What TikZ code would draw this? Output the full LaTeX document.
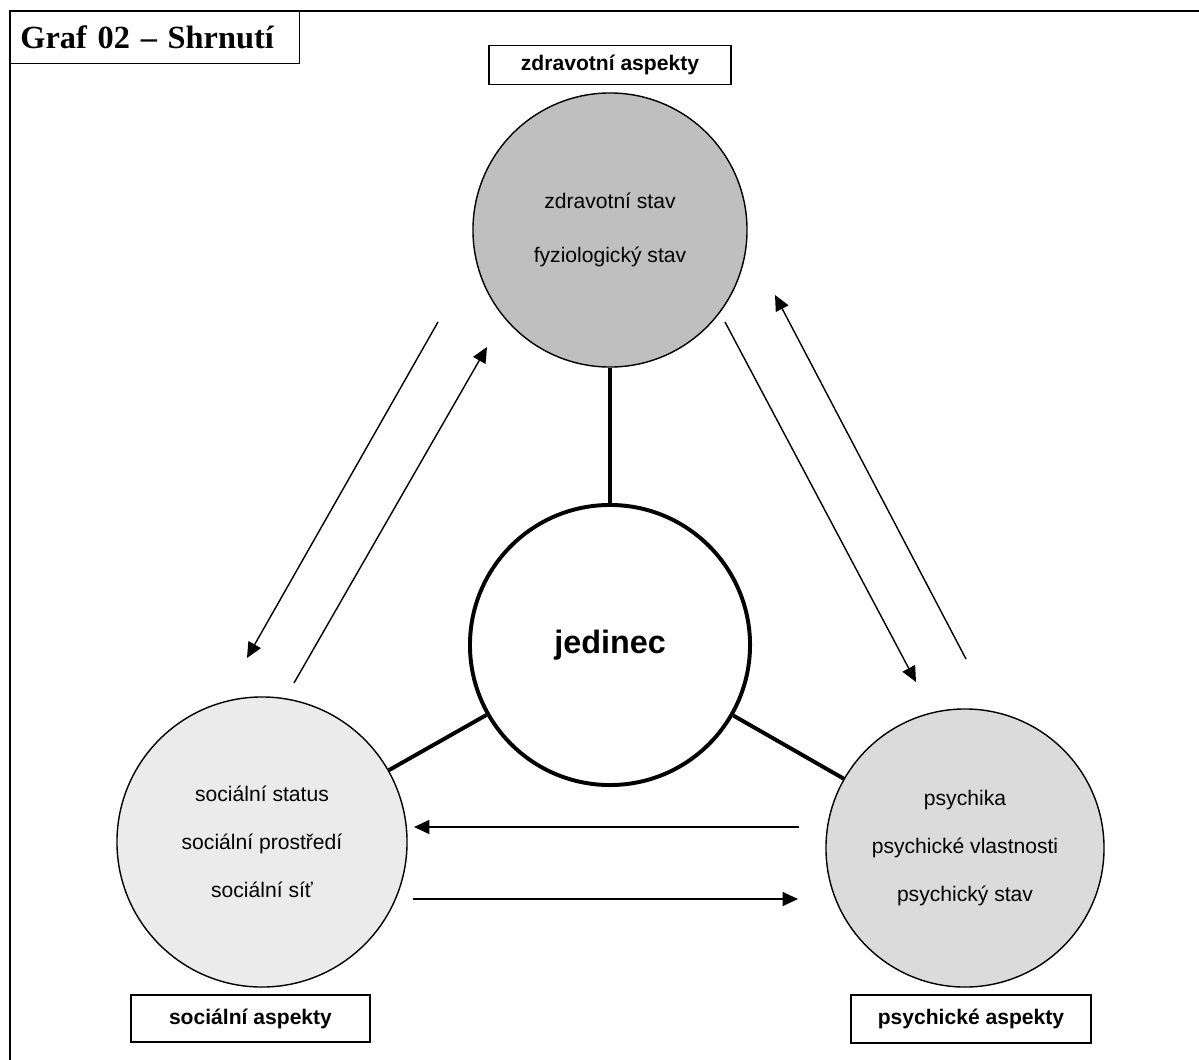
\documentclass[tikz,border=0pt]{standalone}
\usepackage{fontspec}
\setmainfont{Liberation Sans}
\newfontfamily\titlefont{Liberation Serif}
\usetikzlibrary{arrows.meta,positioning}

\definecolor{zdrfill}{gray}{0.75}
\definecolor{socfill}{gray}{0.92}
\definecolor{psyfill}{gray}{0.86}

\tikzset{
	aspect/.style={draw, circle, line width=1pt, align=center, font=\fontsize{15}{34}\selectfont},
	labelbox/.style={draw, line width=1pt, font=\bfseries\fontsize{15}{18}\selectfont},
	link/.style={line width=2.8pt},
	flow/.style={line width=1pt, -{Triangle[length=11pt,width=10pt]}}
}

\begin{document}
\begin{tikzpicture}[x=0.025cm, y=-0.025cm]
	\useasboundingbox (0,0) rectangle (1199,1060);
	% title and frame
	\node[draw, line width=0.6pt, anchor=north west, text width=6.725cm, inner xsep=0.25cm, minimum height=1.3cm, align=left, font=\titlefont\bfseries\fontsize{23}{26}\selectfont] (title) at (10,11) {Graf 02 – Shrnutí};
	\draw[line width=2pt] (10,1060) -- (10,11) -- (1199,11);
	% circles
	\node[aspect, fill=zdrfill, minimum size=6.85cm, font=\fontsize{15}{38}\selectfont] (zdr) at (610,230) {zdravotní stav\\fyziologický stav};
	\node[aspect, line width=2.8pt, fill=white, minimum size=7cm, font=\bfseries\fontsize{23}{26}\selectfont] (jed) at (610,645) {jedinec};
	\node[aspect, fill=socfill, minimum size=7.25cm] (soc) at (262,842) {sociální status\\sociální prostředí\\sociální síť};
	\node[aspect, fill=psyfill, minimum size=6.95cm] (psy) at (965,848) {psychika\\psychické vlastnosti\\psychický stav};
	% labels
	\node[labelbox, minimum width=6.05cm, minimum height=0.975cm, above=0.18cm of zdr] (zdrl) {zdravotní aspekty};
	\node[labelbox, minimum width=5.975cm, minimum height=1.175cm] (socl) at (250.5,1018.5) {sociální aspekty};
	\node[labelbox, minimum width=6cm, minimum height=1.2cm] (psyl) at (971,1019) {psychické aspekty};
	% links to the individual
	\draw[link] (zdr) -- (jed);
	\draw[link] (jed) -- (soc);
	\draw[link] (jed) -- (psy);
	% arrows between aspects
	\coordinate (zs1) at (438,322);
	\coordinate (zs2) at (247,658);
	\coordinate (sz1) at (294,683);
	\coordinate (sz2) at (487,347);
	\coordinate (zp1) at (725,322);
	\coordinate (zp2) at (916,682);
	\coordinate (pz1) at (966,659);
	\coordinate (pz2) at (775,295);
	\coordinate (ps1) at (799,827);
	\coordinate (ps2) at (414,827);
	\coordinate (sp1) at (413,899);
	\coordinate (sp2) at (798,899);
	\draw[flow] (zs1) -- (zs2);
	\draw[flow] (sz1) -- (sz2);
	\draw[flow] (zp1) -- (zp2);
	\draw[flow] (pz1) -- (pz2);
	\draw[flow] (ps1) -- (ps2);
	\draw[flow] (sp1) -- (sp2);
\end{tikzpicture}
\end{document}
